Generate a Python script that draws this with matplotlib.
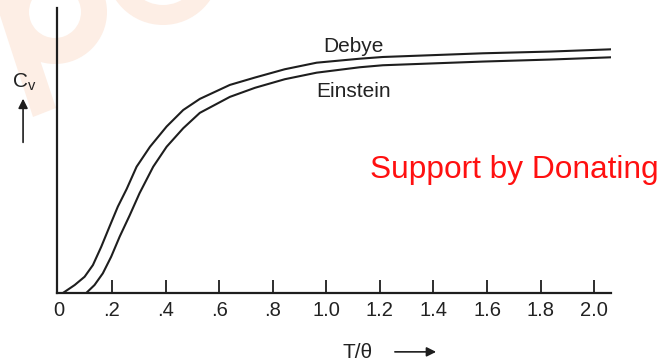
import matplotlib
matplotlib.use("Agg")
import matplotlib.pyplot as plt
from matplotlib.patches import Wedge, FancyArrowPatch, Polygon

plt.rcParams['font.family'] = ['Liberation Sans', 'DejaVu Sans']
plt.rcParams['mathtext.default'] = 'regular'

# 曲線データ（図から読み取り、縦軸は任意単位）
debye_x = [0.017, 0.061, 0.098, 0.129, 0.160, 0.191, 0.222, 0.255, 0.292, 0.342,
           0.404, 0.466, 0.528, 0.640, 0.734, 0.845, 0.964, 1.125, 1.211, 1.585,
           1.834, 2.065]
debye_y = [0.0, 0.028, 0.057, 0.098, 0.162, 0.233, 0.303, 0.365, 0.443, 0.513,
           0.584, 0.642, 0.681, 0.730, 0.756, 0.785, 0.808, 0.822, 0.828, 0.841,
           0.847, 0.855]

einstein_x = [0.104, 0.135, 0.166, 0.197, 0.229, 0.266, 0.303, 0.354, 0.404, 0.466,
              0.528, 0.640, 0.734, 0.845, 0.964, 1.125, 1.211, 1.585, 1.834, 2.065]
einstein_y = [0.0, 0.028, 0.069, 0.127, 0.198, 0.272, 0.350, 0.443, 0.513, 0.578,
              0.632, 0.688, 0.720, 0.750, 0.773, 0.792, 0.799, 0.812, 0.819, 0.827]

xticks = [0, 0.2, 0.4, 0.6, 0.8, 1.0, 1.2, 1.4, 1.6, 1.8, 2.0]
xticklabels = ['0', '.2', '.4', '.6', '.8', '1.0', '1.2', '1.4', '1.6', '1.8', '2.0']

line_color = '#1e1e1e'
text_color = '#222222'
mark_color = '#fdeee5'

fig = plt.figure(figsize=(6.59, 3.62), dpi=100)

# 透かし（薄いオレンジのロゴ）、ピクセル座標の背景軸に描く
bg = fig.add_axes([0, 0, 1, 1], zorder=0)
bg.set_xlim(0, 659)
bg.set_ylim(362, 0)
bg.axis('off')
bg.add_patch(Polygon([(-5, 0), (20, 0), (56, 108), (33, 117)], closed=True,
                     color=mark_color, lw=0))
bg.add_patch(Wedge((55, 12), 52, 0, 360, width=26, color=mark_color, lw=0))
bg.add_patch(Wedge((163, -32), 57, 0, 360, width=20, color=mark_color, lw=0))

ax = fig.add_axes([0.0865, 0.1906, 0.8405, 0.7874], zorder=1)
ax.patch.set_alpha(0)

ax.plot(debye_x, debye_y, color=line_color, lw=1.5, solid_joinstyle='round')
ax.plot(einstein_x, einstein_y, color=line_color, lw=1.5, solid_joinstyle='round')

ax.set_xlim(-0.005, 2.062)
ax.set_ylim(0, 1)

for s in ['top', 'right']:
    ax.spines[s].set_visible(False)
for s in ['left', 'bottom']:
    ax.spines[s].set_linewidth(1.6)
    ax.spines[s].set_color(line_color)

ax.set_xticks(xticks)
ax.set_xticklabels(xticklabels)
ax.set_yticks([])
ax.tick_params(axis='x', direction='in', length=9.5, width=1.3, color=line_color,
               labelsize=14.5, pad=6, labelcolor=text_color)
ax.xaxis.get_major_ticks()[0].tick1line.set_visible(False)

ax.text(1.103, 0.846, 'Debye', fontsize=15, ha='center', va='baseline', color=text_color)
ax.text(1.103, 0.688, 'Einstein', fontsize=15, ha='center', va='baseline', color=text_color)

# 軸ラベルと矢印
fig.text(0.018, 0.757, r'C$_{v}$', fontsize=15, ha='left', va='baseline', color=text_color)
fig.add_artist(FancyArrowPatch(
    (0.035, 0.599), (0.035, 0.735), transform=fig.transFigure,
    arrowstyle='-|>', mutation_scale=14, lw=1.2, color=line_color))

fig.text(0.52, 0.011, 'T/θ', fontsize=15, ha='left', va='baseline', color=text_color)
fig.add_artist(FancyArrowPatch(
    (0.595, 0.028), (0.666, 0.028), transform=fig.transFigure,
    arrowstyle='-|>', mutation_scale=14, lw=1.2, color=line_color))

fig.text(0.561, 0.508, 'Support by Donating', fontsize=22.8, color='#ff1010',
         ha='left', va='baseline')

fig.savefig('out.png', dpi=100)
